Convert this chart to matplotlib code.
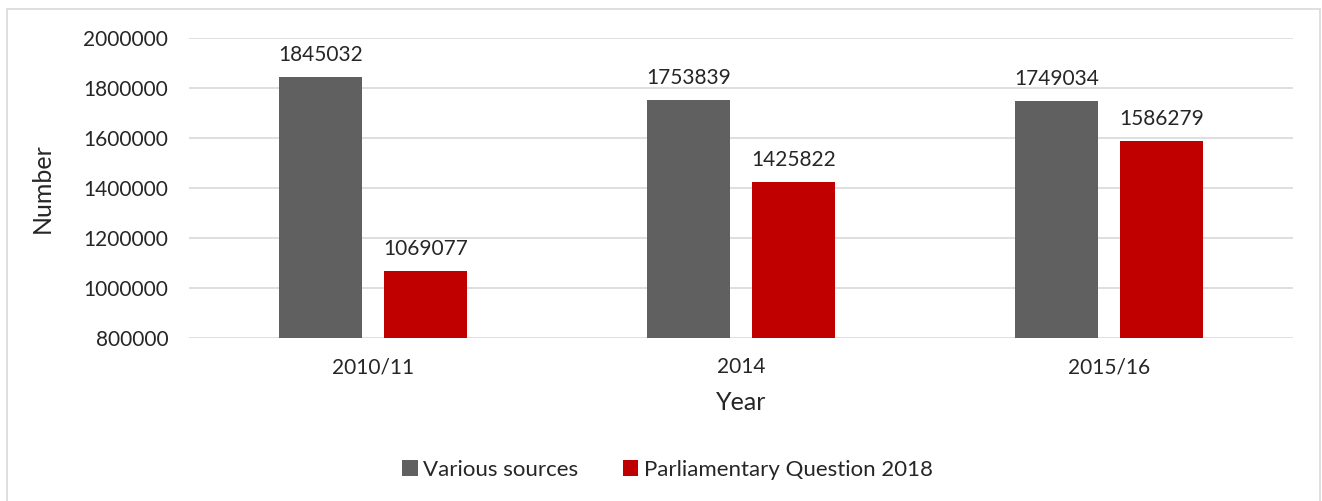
import matplotlib
matplotlib.use("Agg")
import matplotlib.pyplot as plt
from matplotlib.patches import Rectangle
import numpy as np

plt.rcParams['font.family'] = ['Lato', 'DejaVu Sans']

years = ["2010/11", "2014", "2015/16"]
various_sources = [1845032, 1753839, 1749034]
parliamentary_q = [1069077, 1425822, 1586279]
series_names = ["Various sources", "Parliamentary Question 2018"]
colors = ["#606060", "#c00000"]

fig = plt.figure(figsize=(13.22, 5.01), dpi=100)
ax = fig.add_axes([189 / 1322, 1 - 338 / 501, (1293 - 189) / 1322, 300 / 501])

# outer chart frame
fig.patches.append(Rectangle((7 / 1322, -0.05), 1313 / 1322, 1 - 9 / 501 + 0.05,
                             transform=fig.transFigure, fill=False,
                             edgecolor="#d9d9d9", linewidth=1.2))

x = np.arange(len(years))
width = 0.226
offset = 0.142
base = 800000
txt = "#262626"
for vals, off, c, name in zip([various_sources, parliamentary_q], [-offset, offset], colors, series_names):
    ax.bar(x + off, np.array(vals) - base, width, bottom=base, color=c, label=name, zorder=3)
    for xi, v in zip(x + off, vals):
        ax.text(xi, v + 48000, f"{v}", ha="center", va="bottom", fontsize=15, color=txt)

ax.set_xlim(-0.5, 2.5)
ax.set_ylim(800000, 2000000)
ax.set_yticks(np.arange(800000, 2000001, 200000))
ax.set_yticklabels([f"{t}" for t in range(800000, 2000001, 200000)])
ax.set_xticks(x)
ax.set_xticklabels(years)
ax.grid(axis="y", color="#d9d9d9", linewidth=1.2, zorder=0)
for s in ax.spines.values():
    s.set_visible(False)
ax.tick_params(axis="both", length=0, labelsize=15, colors=txt)
ax.tick_params(axis="y", pad=15)
ax.tick_params(axis="x", pad=14)
ax.set_ylabel("Number", fontsize=18, color=txt, labelpad=21)
ax.set_xlabel("Year", fontsize=18, color=txt, labelpad=10)

ax.legend(loc="center", bbox_to_anchor=(0.505, 1 - 470 / 501), bbox_transform=fig.transFigure,
          ncol=2, frameon=False, fontsize=16, handlelength=0.7, handleheight=0.7,
          handletextpad=0.25, columnspacing=2.0, labelcolor=txt)

fig.savefig("out.png", dpi=100)
